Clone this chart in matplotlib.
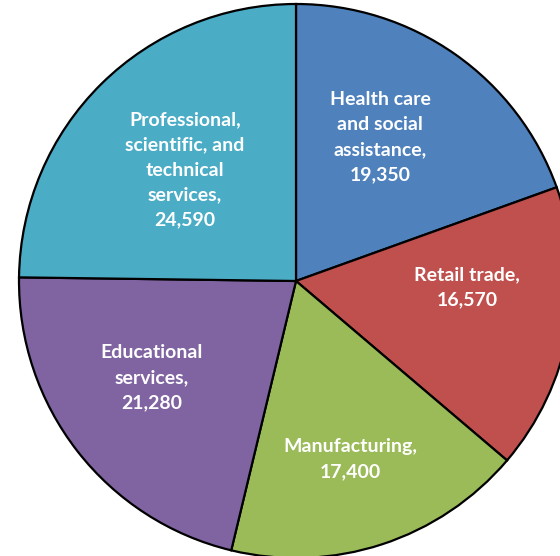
import matplotlib.pyplot as plt

# Employment by industry sector
sectors = ["Health care\nand social\nassistance", "Retail trade", "Manufacturing",
           "Educational\nservices", "Professional,\nscientific, and\ntechnical\nservices"]
values = [19350, 16570, 17400, 21280, 24590]
colors = ["#4F81BD", "#C0504D", "#9BBB59", "#8064A2", "#4BACC6"]

# label centres in pixel space
label_pos = [(380, 137), (467, 287), (350, 459), (152, 378), (185, 170)]

W, H = 560, 556
fig = plt.figure(figsize=(W / 100, H / 100), dpi=100)
ax = fig.add_axes([0, 0, 1, 1])

ax.pie(values, colors=colors, startangle=90, counterclock=False,
       center=(296, H - 281), radius=277, frame=True,
       wedgeprops=dict(edgecolor="black", linewidth=1.6))
ax.set_xlim(0, W)
ax.set_ylim(0, H)
ax.set_aspect("equal")
ax.axis("off")

for name, v, (x, y) in zip(sectors, values, label_pos):
    ax.text(x, H - y, f"{name},\n{v:,}", ha="center", va="center",
            color="white", fontsize=14, fontweight="bold", family="Lato",
            linespacing=1.58)

fig.savefig("out.png", dpi=100)
